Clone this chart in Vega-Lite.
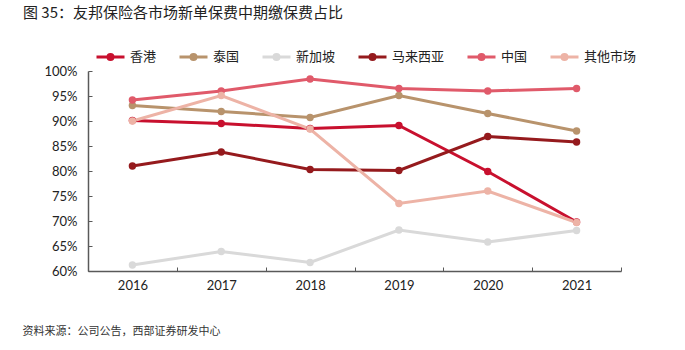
{
  "$schema": "https://vega.github.io/schema/vega-lite/v6.json",
  "width": 533,
  "height": 200,
  "autosize": "none",
  "padding": {"left": 88, "top": 71, "right": 64, "bottom": 79},
  "background": "white",
  "title": {
    "text": "图 35：友邦保险各市场新单保费中期缴保费占比",
    "anchor": "start",
    "frame": "group",
    "dx": -65,
    "offset": 20,
    "fontSize": 15,
    "fontWeight": "normal",
    "font": "Noto Sans CJK SC",
    "color": "#222222"
  },
  "data": {
    "values": [
      {"year": "2016", "market": "香港", "value": 90.1},
      {"year": "2017", "market": "香港", "value": 89.5},
      {"year": "2018", "market": "香港", "value": 88.5},
      {"year": "2019", "market": "香港", "value": 89.1},
      {"year": "2020", "market": "香港", "value": 79.9},
      {"year": "2021", "market": "香港", "value": 69.8},
      {"year": "2016", "market": "泰国", "value": 93.1},
      {"year": "2017", "market": "泰国", "value": 91.9},
      {"year": "2018", "market": "泰国", "value": 90.7},
      {"year": "2019", "market": "泰国", "value": 95.1},
      {"year": "2020", "market": "泰国", "value": 91.5},
      {"year": "2021", "market": "泰国", "value": 88.0},
      {"year": "2016", "market": "新加坡", "value": 61.2},
      {"year": "2017", "market": "新加坡", "value": 63.9},
      {"year": "2018", "market": "新加坡", "value": 61.7},
      {"year": "2019", "market": "新加坡", "value": 68.2},
      {"year": "2020", "market": "新加坡", "value": 65.8},
      {"year": "2021", "market": "新加坡", "value": 68.1},
      {"year": "2016", "market": "马来西亚", "value": 81.0},
      {"year": "2017", "market": "马来西亚", "value": 83.8},
      {"year": "2018", "market": "马来西亚", "value": 80.3},
      {"year": "2019", "market": "马来西亚", "value": 80.1},
      {"year": "2020", "market": "马来西亚", "value": 86.9},
      {"year": "2021", "market": "马来西亚", "value": 85.8},
      {"year": "2016", "market": "中国", "value": 94.2},
      {"year": "2017", "market": "中国", "value": 96.0},
      {"year": "2018", "market": "中国", "value": 98.4},
      {"year": "2019", "market": "中国", "value": 96.5},
      {"year": "2020", "market": "中国", "value": 96.0},
      {"year": "2021", "market": "中国", "value": 96.5},
      {"year": "2016", "market": "其他市场", "value": 90.0},
      {"year": "2017", "market": "其他市场", "value": 95.1},
      {"year": "2018", "market": "其他市场", "value": 88.4},
      {"year": "2019", "market": "其他市场", "value": 73.5},
      {"year": "2020", "market": "其他市场", "value": 76.0},
      {"year": "2021", "market": "其他市场", "value": 69.7}
    ]
  },
  "encoding": {
    "x": {
      "field": "year",
      "type": "ordinal",
      "scale": {"type": "band", "paddingInner": 0, "paddingOuter": 0},
      "axis": {
        "title": "资料来源：公司公告，西部证券研发中心",
        "titleX": -66,
        "titleY": 60,
        "titleAnchor": "start",
        "titleAlign": "left",
        "titleBaseline": "middle",
        "titleFont": "Noto Sans CJK SC",
        "titleFontSize": 11,
        "titleFontWeight": "normal",
        "titleColor": "#333333",
        "labelAngle": 0,
        "labelFont": "Lato",
        "labelFontSize": 13,
        "labelColor": "#222222",
        "labelPadding": 12,
        "tickBand": "extent",
        "tickSize": -4,
        "tickColor": "#595959",
        "domainColor": "#595959",
        "domainWidth": 1.5,
        "grid": false
      }
    },
    "y": {
      "field": "value",
      "type": "quantitative",
      "scale": {"domain": [60, 100], "nice": false, "zero": false},
      "axis": {
        "title": null,
        "values": [60, 65, 70, 75, 80, 85, 90, 95, 100],
        "labelExpr": "datum.value + '%'",
        "labelFont": "Lato",
        "labelFontSize": 13,
        "labelColor": "#222222",
        "labelPadding": 15,
        "tickSize": -4,
        "tickColor": "#595959",
        "domainColor": "#595959",
        "domainWidth": 1.5,
        "grid": false
      }
    },
    "color": {
      "field": "market",
      "type": "nominal",
      "scale": {
        "domain": ["香港", "泰国", "新加坡", "马来西亚", "中国", "其他市场"],
        "range": ["#C8102E", "#B8936C", "#D9D9D9", "#951A1D", "#E05A6A", "#EDB3A6"]
      },
      "legend": {
        "title": null,
        "orient": "none",
        "legendX": 7,
        "legendY": -30,
        "direction": "horizontal",
        "columns": 6,
        "columnPadding": 16,
        "labelOffset": 4,
        "labelFont": "Noto Sans CJK SC",
        "labelFontSize": 13,
        "labelColor": "#222222",
        "symbolType": "M-1,0H1M-0.18,0A0.18,0.18,0,1,1,0.18,0A0.18,0.18,0,1,1,-0.18,0Z",
        "symbolSize": 784,
        "symbolStrokeWidth": 3,
        "encode": {
          "symbols": {
            "update": {
              "fill": {"scale": "color", "field": "value"},
              "stroke": {"scale": "color", "field": "value"},
              "strokeWidth": {"value": 3},
              "opacity": {"value": 1}
            }
          }
        }
      }
    }
  },
  "layer": [
    {"mark": {"type": "line", "strokeWidth": 3}},
    {"mark": {"type": "point", "filled": true, "size": 55, "opacity": 1}}
  ],
  "config": {"view": {"stroke": null}}
}
